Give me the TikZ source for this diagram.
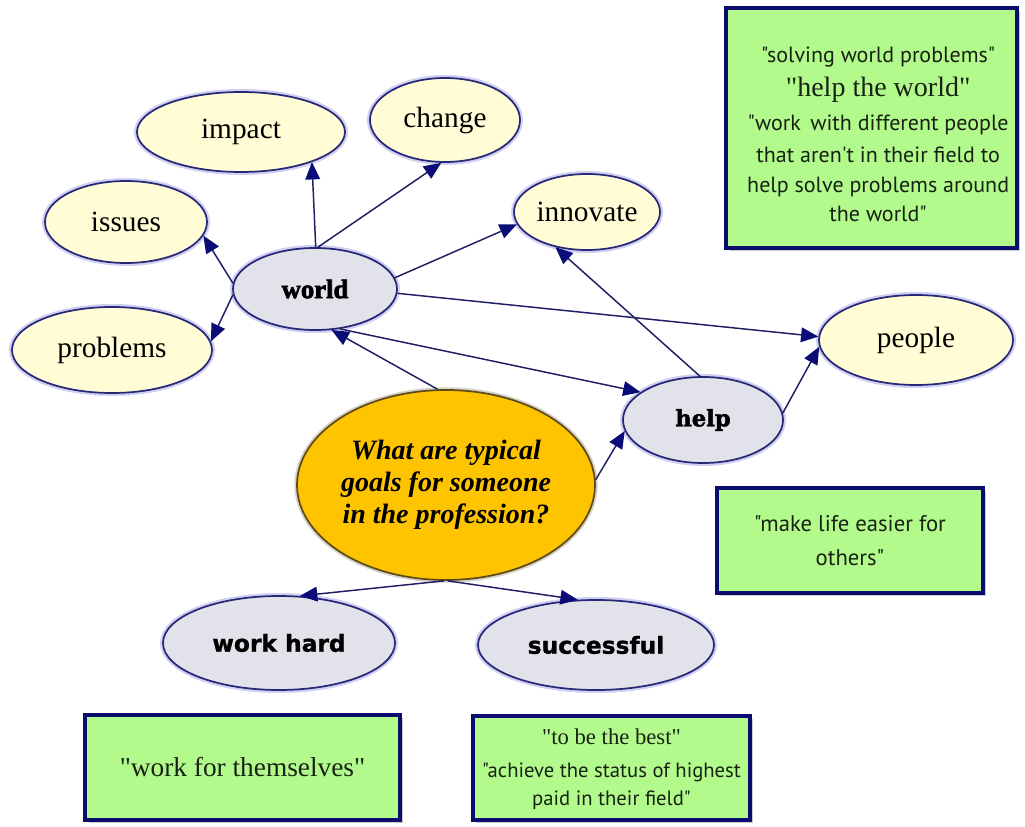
\documentclass[tikz,border=0pt]{standalone}
\usepackage{fontspec}
\newfontfamily\qfont{Liberation Serif}
\newfontfamily\blackserif[FakeBold=2.5]{Liberation Serif}
\newfontfamily\boxsans{PT Sans}
\newfontfamily\heavysans[FakeBold=1.2]{DejaVu Sans}
\newfontfamily\slabfont[FakeBold=2]{DejaVu Serif}
\usetikzlibrary{arrows.meta,shadows,shapes.geometric}

\definecolor{rimblue}{RGB}{40,40,120}
\definecolor{halo}{RGB}{208,208,242}
\definecolor{linkblue}{RGB}{30,30,100}
\definecolor{tipblue}{RGB}{12,12,120}
\definecolor{leafyellow}{RGB}{255,252,214}
\definecolor{keygray}{RGB}{226,226,234}
\definecolor{goldfill}{RGB}{255,196,0}
\definecolor{goldrim}{RGB}{95,75,25}
\definecolor{boxgreen}{RGB}{178,250,140}
\definecolor{boxnavy}{RGB}{12,12,110}
\definecolor{boxtext}{RGB}{24,34,18}

\tikzset{
  concept/.style={ellipse, draw=rimblue, line width=1.3pt, inner sep=0pt,
    preaction={draw=halo, line width=4.5pt}},
  leaf/.style={concept, fill=leafyellow, font=\qfont\fontsize{22}{26}\selectfont},
  keyword/.style={concept, fill=keygray},
  question/.style={ellipse, draw=goldrim, line width=1.3pt, fill=goldfill, inner sep=0pt,
    preaction={draw=goldrim!25, line width=4pt}, align=center,
    font=\qfont\bfseries\itshape\fontsize{21}{24}\selectfont},
  quotebox/.style={rectangle, draw=boxnavy, line width=2.6pt, fill=boxgreen,
    drop shadow={shadow xshift=2.5pt, shadow yshift=-2.5pt, fill=black!40},
    inner sep=0pt},
  quotetext/.style={align=center, text=boxtext, inner sep=0pt},
  link/.style={draw=linkblue, line width=1.1pt,
    -{Triangle[length=13pt,width=11pt,color=tipblue]}}
}

\begin{document}
\begin{tikzpicture}[x=0.75pt,y=-0.75pt]
\useasboundingbox (0,0) rectangle (1025,827);

% leaf concepts
\node[leaf, minimum width=156pt,   minimum height=60pt]   (impact)   at (241,132) {impact};
\node[leaf, minimum width=112.5pt, minimum height=63pt]   (change)   at (445,120) {change};
\node[leaf, minimum width=121.5pt, minimum height=61.5pt] (issues)   at (126,222) {issues};
\node[leaf, minimum width=150pt,   minimum height=64.5pt] (problems) at (112,350) {problems};
\node[leaf, minimum width=109.5pt, minimum height=57pt]   (innovate) at (587,212) {innovate};
\node[leaf, minimum width=145.5pt, minimum height=67.5pt] (people)   at (916,340) {people};

% key concepts
\node[keyword, minimum width=123pt, minimum height=61.5pt,
      font=\blackserif\bfseries\fontsize{20}{24}\selectfont] (world) at (315,289) {world};
\node[keyword, minimum width=120pt, minimum height=64.5pt,
      font=\slabfont\bfseries\fontsize{17}{20}\selectfont] (help) at (703,420) {help};
\node[keyword, minimum width=174pt, minimum height=70.5pt,
      font=\heavysans\bfseries\fontsize{17.5}{20}\selectfont] (workhard) at (279,643) {work hard};
\node[keyword, minimum width=177pt, minimum height=67.5pt,
      font=\heavysans\bfseries\fontsize{17.5}{20}\selectfont] (successful) at (596,645) {successful};

% focus question
\node[question, minimum width=223.5pt, minimum height=142.5pt] (focus) at (446,485)
  {What are typical\\goals for someone\\in the profession?};

% quotation boxes
\node[quotebox, minimum width=218pt, minimum height=180pt] (qworld) at (871.5,128) {};
\node[quotetext, font=\boxsans\fontsize{16.5}{22}\selectfont] (qworldtext)
  at ([xshift=5pt,yshift=-5pt]qworld.center)
  {"solving world problems"\\[3.5pt]
   {\qfont\fontsize{21}{22}\selectfont "help the world"}\\[3.5pt]
   "work\ \,with different people\\[2pt]
   that aren't in their field to\\
   help solve problems around\\
   the world"};

\node[quotebox, minimum width=199.5pt, minimum height=78.75pt] (qhelp) at (850,540.5) {};
\node[quotetext, font=\boxsans\fontsize{17}{26}\selectfont] (qhelptext) at (qhelp.center)
  {"make life easier for\\others"};

\node[quotebox, minimum width=236pt, minimum height=78.75pt] (qwork) at (242.5,767.5) {};
\node[quotetext, font=\qfont\fontsize{20.5}{24}\selectfont] (qworktext) at (qwork.center)
  {"work for themselves"};

\node[quotebox, minimum width=207.75pt, minimum height=78pt] (qsuccess) at (611.5,768) {};
\node[quotetext, font=\boxsans\fontsize{15.5}{21}\selectfont] (qsuccesstext)
  at ([yshift=-1pt]qsuccess.center)
  {{\qfont\fontsize{17}{21}\selectfont "to be the best"}\\[4pt]
   "achieve the status of highest\\
   paid in their field"};

% links
\draw[link] (world.89)  -- (impact.-23);
\draw[link] (world.86)  -- (change.-95);
\draw[link] (world.176) -- (issues.-10);
\draw[link] (world.-176) -- (problems.5);
\draw[link] (world.8)   -- (innovate.-170);
\draw[link] (world.-3)  -- (people.178);
\draw[link] (focus.95)  -- (world.-68);
\draw[link] (world.-58) -- (help.156);
\draw[link] (help.94)   -- (innovate.-132);
\draw[link] (help.5)    -- (people.-176);
\draw[link] (focus.2)   -- (help.-172);
\draw[link] (focus.-91) -- (workhard.66);
\draw[link] (focus.-89) -- (successful.112);
\end{tikzpicture}
\end{document}
